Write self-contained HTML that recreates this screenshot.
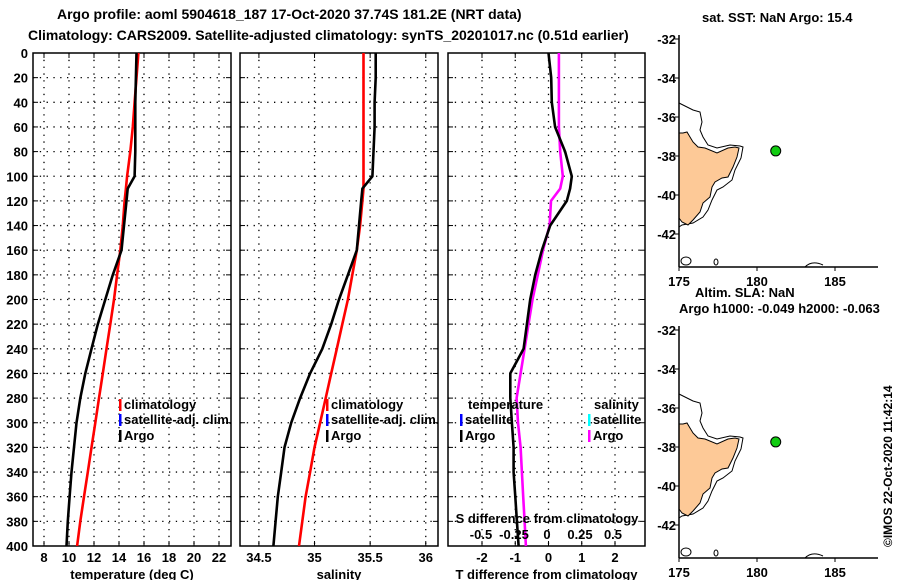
<!DOCTYPE html>
<html><head><meta charset="utf-8"><style>
html,body{margin:0;padding:0;background:#fff}
svg{display:block;font-family:"Liberation Sans",Arial,sans-serif}
text{font-size:13px;fill:#000;font-weight:bold}
</style></head><body>
<svg id="c" width="900" height="580" viewBox="0 0 900 580" xmlns="http://www.w3.org/2000/svg">
<text x="57" y="19" style="font-size:14px">Argo profile: aoml 5904618_187 17-Oct-2020 37.74S 181.2E (NRT data)</text>
<text x="28" y="40" style="font-size:14px">Climatology: CARS2009. Satellite-adjusted climatology: synTS_20201017.nc (0.51d earlier)</text>
<text x="702" y="22">sat. SST: NaN Argo: 15.4</text>
<text x="695" y="297">Altim. SLA: NaN</text>
<text x="679" y="313">Argo h1000: -0.049 h2000: -0.063</text>
<text transform="translate(892,547) rotate(-90)" style="font-size:12px">©IMOS 22-Oct-2020 11:42:14</text>
<g id="g"></g>
</svg>
<script>
const pres = [0,20,40,60,80,100,110,120,140,160,180,200,220,240,260,280,300,320,340,360,380,400];
const tempArgo = [15.4,15.35,15.3,15.3,15.3,15.25,14.7,14.6,14.4,14.2,13.5,12.9,12.3,11.8,11.3,10.9,10.6,10.4,10.2,10.05,9.9,9.8];
const tempClim = [15.55,15.4,15.25,15.1,14.9,14.65,14.55,14.45,14.3,14.1,13.85,13.6,13.3,13.0,12.7,12.4,12.1,11.8,11.5,11.2,10.9,10.65];
const salArgo = [35.55,35.55,35.54,35.54,35.53,35.52,35.43,35.42,35.40,35.38,35.30,35.22,35.15,35.07,34.96,34.87,34.79,34.73,34.70,34.67,34.65,34.63];
const salClim = [35.44,35.44,35.44,35.44,35.44,35.44,35.44,35.43,35.41,35.38,35.34,35.30,35.25,35.20,35.15,35.10,35.05,35.00,34.96,34.92,34.89,34.86];
const tDiff = [0,0.08,0.1,0.2,0.5,0.7,0.65,0.55,0.05,-0.2,-0.4,-0.55,-0.65,-0.75,-1.15,-1.15,-1.1,-1.05,-1.05,-1.0,-0.95,-0.9];
const sDiff = [0.09,0.09,0.09,0.09,0.1,0.12,0.1,0.03,0.02,-0.03,-0.07,-0.11,-0.14,-0.17,-0.2,-0.23,-0.22,-0.2,-0.19,-0.18,-0.17,-0.16];
const presTicks = [0,20,40,60,80,100,120,140,160,180,200,220,240,260,280,300,320,340,360,380,400];
const tempTicks = [8,10,12,14,16,18,20,22];
const salTicks = [34.5,35,35.5,36];
const tdTicks = [-2,-1,0,1,2];
const sdTicks = [-0.5,-0.25,0,0.25,0.5];
const latTicks = [-32,-34,-36,-38,-40,-42];
const lonTicks = [175,180,185];
const argoLon = 181.2, argoLat = -37.74;

const NS='http://www.w3.org/2000/svg', G=document.getElementById('g');
function mk(t,a,p){const e=document.createElementNS(NS,t);for(const k in a)e.setAttribute(k,a[k]);(p||G).appendChild(e);return e;}
const Y0=53,Y1=546;
const yP=p=>Y0+(p/400)*(Y1-Y0);
const panels=[
 {name:'temperature',x0:33,x1:231,d0:7.12,d1:22.96,ticks:tempTicks,title:'temperature (deg C)'},
 {name:'salinity',x0:240,x1:438,d0:34.33,d1:36.11,ticks:salTicks,title:'salinity'},
 {name:'difference',x0:448,x1:645,d0:-2.0-(482-448)/33.25,d1:2+(645-615)/33.25,ticks:tdTicks,title:'T difference from climatology'}
];
panels.forEach(P=>{P.sx=v=>P.x0+(v-P.d0)/(P.d1-P.d0)*(P.x1-P.x0);});
panels.forEach((P,i)=>{
 const g=mk('g',{});
 
 
 presTicks.forEach(p=>{const y=yP(p);
  if(p>0&&p<400){const l=mk('line',{x1:P.x0,x2:P.x1,y1:y,y2:y,stroke:'#000','stroke-width':1.3,'stroke-dasharray':'1.3 5.5'},g);}
  mk('line',{x1:P.x0,x2:P.x0+5,y1:y,y2:y,stroke:'#000','stroke-width':1},g);
  mk('line',{x1:P.x1-5,x2:P.x1,y1:y,y2:y,stroke:'#000','stroke-width':1},g);
  if(i==0){const t=mk('text',{x:28,y:y+5,'text-anchor':'end'},g);t.textContent=p;}
 });
 P.ticks.forEach(v=>{const x=P.sx(v);
  const l=mk('line',{x1:x,x2:x,y1:Y0,y2:Y1,stroke:'#000','stroke-width':1.3,'stroke-dasharray':'1.3 5.5'},g);
  mk('line',{x1:x,x2:x,y1:Y0,y2:Y0+5,stroke:'#000'},g);mk('line',{x1:x,x2:x,y1:Y1-5,y2:Y1,stroke:'#000'},g);
  const t=mk('text',{x:x,y:562,'text-anchor':'middle'},g);t.textContent=v;
 });
 const r=mk('rect',{x:P.x0,y:Y0,width:P.x1-P.x0,height:Y1-Y0,fill:'none',stroke:'#000','stroke-width':1.5},g);
 
 const tt=mk('text',{x:(P.x0+P.x1)/2,y:579,'text-anchor':'middle'},g);tt.textContent=P.title;
 
});
function line(P,sx,vals,col,name){
 const pts=vals.map((v,k)=>sx(v).toFixed(1)+','+yP(pres[k]).toFixed(1)).join(' ');
 const e=mk('polyline',{points:pts,fill:'none',stroke:col,'stroke-width':2.6,'stroke-linejoin':'round'});
 
}
line(panels[0],panels[0].sx,tempClim,'#f00','temp-climatology-line');
line(panels[0],panels[0].sx,tempArgo,'#000','temp-argo-line');
line(panels[1],panels[1].sx,salClim,'#f00','sal-climatology-line');
line(panels[1],panels[1].sx,salArgo,'#000','sal-argo-line');
const sdx=v=>547+v*132;
line(panels[2],sdx,sDiff,'#f0f','sdiff-argo-line');
line(panels[2],panels[2].sx,tDiff,'#000','tdiff-argo-line');
const st=mk('text',{x:547,y:523,'text-anchor':'middle'});st.textContent='S difference from climatology';

sdTicks.forEach(v=>{const t=mk('text',{x:sdx(v),y:539,'text-anchor':'middle'});t.textContent=v;
 });
function leg(x,y,col,label,name){
 const g=mk('g',{});
 mk('rect',{x:x,y:y-10,width:2.5,height:12,fill:col},g);
 const t=mk('text',{x:x+5,y:y},g);t.textContent=label;
}
[0,1].forEach(i=>{const x=panels[i].x0+86;
 leg(x,409,'#f00','climatology','legend-climatology');
 leg(x,424,'#00f','satellite-adj. clim.','legend-satellite-adj');
 leg(x,440,'#000','Argo','legend-argo');});
let t=mk('text',{x:468,y:409});t.textContent='temperature';
leg(460,424,'#00f','satellite','legend-temp-satellite');
leg(460,440,'#000','Argo','legend-temp-argo');
t=mk('text',{x:594,y:409});t.textContent='salinity';
leg(588,424,'#0ff','satellite','legend-sal-satellite');
leg(588,440,'#f0f','Argo','legend-sal-argo');
const land=[[679,133],[683,133],[687,132],[690,137],[693,142],[698,147],[705,148],[717,153],[728,148],[735,147],[739,148],[737,157],[733,167],[728,177],[722,178],[715,182],[712,187],[710,197],[703,203],[700,212],[693,220],[688,225],[682,222],[679,218]];
const shelf=[[679,103],[693,110],[700,112],[702,122],[700,130],[703,137],[708,145],[717,148],[730,145],[740,146],[743,147],[741,158],[735,170],[732,180],[723,187],[717,190],[712,200],[708,210],[703,217],[693,223],[682,225],[679,227]];
[0,291].forEach((off,m)=>{
 const g=mk('g',{});
 const X0=679,X1=878,T=35+off,B=267+off;
 const lx=v=>679+(v-175)*15.6, ly=v=>39+off+(-32-v)*19.5;
 mk('polyline',{points:shelf.map(p=>p[0]+','+(p[1]+off)).join(' '),fill:'none',stroke:'#000','stroke-width':1},g);
 const l=mk('polygon',{points:land.map(p=>p[0]+','+(p[1]+off)).join(' '),fill:'#fdc997',stroke:'#000','stroke-width':1},g);
 
 mk('ellipse',{cx:686,cy:261+off,rx:5,ry:4,fill:'none',stroke:'#000'},g);
 mk('ellipse',{cx:716,cy:262+off,rx:2,ry:3,fill:'none',stroke:'#000'},g);
 mk('path',{d:`M805 ${267+off} Q812 ${260+off} 823 ${265+off}`,fill:'none',stroke:'#000'},g);
 mk('line',{x1:X0,x2:X0,y1:T,y2:B,stroke:'#000','stroke-width':1.5},g);
 mk('line',{x1:X0,x2:X1,y1:B,y2:B,stroke:'#000','stroke-width':1.5},g);
 latTicks.forEach(v=>{const y=ly(v);mk('line',{x1:X0-4,x2:X0,y1:y,y2:y,stroke:'#000'},g);
  const tx=mk('text',{x:X0-3,y:y+5,'text-anchor':'end'},g);tx.textContent=v;});
 lonTicks.forEach(v=>{const x=lx(v);mk('line',{x1:x,x2:x,y1:B,y2:B+4,stroke:'#000'},g);
  const tx=mk('text',{x:x,y:B+19,'text-anchor':'middle'},g);tx.textContent=v;});
 const d=mk('circle',{cx:lx(argoLon),cy:ly(argoLat),r:5,fill:'#1c1',stroke:'#000'},g);
 
});
</script>
</body></html>
